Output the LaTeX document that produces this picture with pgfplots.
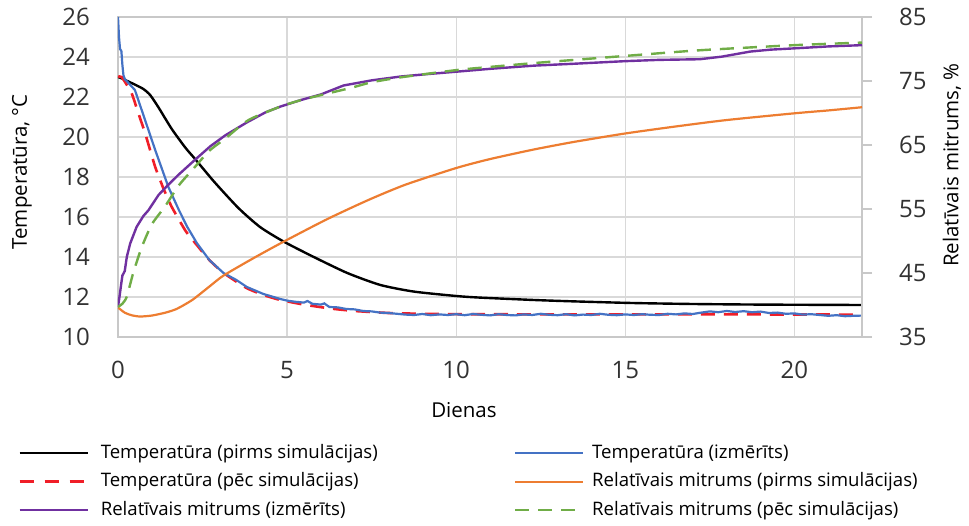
\documentclass[border=0pt]{standalone}
\usepackage{pgfplots}
\usepackage{pgfplotstable}
\pgfplotsset{compat=1.18}
\usepackage{fontspec}
\setmainfont{Open Sans}
\definecolor{gridc}{RGB}{217,217,217}
\definecolor{axc}{RGB}{200,200,200}
\definecolor{txt}{RGB}{50,50,50}
\definecolor{cblue}{RGB}{68,114,196}
\definecolor{cred}{RGB}{240,30,40}
\definecolor{corange}{RGB}{237,125,49}
\definecolor{cpurple}{RGB}{112,48,160}
\definecolor{cgreen}{RGB}{112,173,71}

\pgfplotstableread{
x y
0 23.0
0.11 22.93
0.5 22.62
0.75 22.4
0.95 22.1
1.19 21.5
1.59 20.4
2.0 19.45
2.28 18.9
2.85 17.75
3.56 16.45
4.2 15.5
4.9 14.77
5.79 14.0
6.78 13.2
7.76 12.6
8.75 12.27
10 12.05
10.7 11.97
12.3 11.85
13.5 11.78
15.2 11.7
17 11.65
19 11.62
22 11.6
}\tblack

\pgfplotstableread{
x y
0 23.0
0.11 23.0
0.4 22.2
0.6 21.2
0.8 20.2
1.1 18.5
1.35 17.4
1.59 16.5
2.0 15.3
2.33 14.6
2.7 13.85
3.12 13.2
3.8 12.45
4.3 12.1
4.8 11.85
5.5 11.62
6.3 11.42
7.0 11.3
8.0 11.2
9.0 11.16
10.0 11.14
14 11.13
18 11.13
22 11.12
}\tred

\pgfplotstableread{
x y
0 26.0
0.03 25.0
0.06 24.4
0.1 24.3
0.13 23.6
0.16 23.1
0.2 22.9
0.5 22.35
0.8 20.85
1.1 19.35
1.49 17.5
1.8 16.35
2.05 15.5
2.33 14.7
2.7 13.85
3.12 13.2
3.5 12.85
3.81 12.5
4.3 12.15
4.8 11.9
5.0 11.82
5.25 11.76
5.5 11.72
5.6 11.8
5.75 11.66
6.0 11.62
6.1 11.68
6.25 11.50
6.5 11.48
6.75 11.40
7.0 11.38
7.25 11.30
7.5 11.28
7.75 11.22
8.0 11.20
8.25 11.16
8.5 11.12
8.75 11.10
9.0 11.15
9.25 11.09
9.5 11.13
9.75 11.10
10.0 11.14
10.25 11.09
10.5 11.15
10.75 11.11
11.0 11.08
11.25 11.14
11.5 11.10
11.75 11.08
12.0 11.13
12.25 11.10
12.5 11.16
12.75 11.11
13.0 11.09
13.25 11.14
13.5 11.08
13.75 11.12
14.0 11.10
14.25 11.16
14.5 11.11
14.75 11.09
15.0 11.13
15.25 11.10
15.5 11.14
15.75 11.11
16.0 11.10
16.25 11.16
16.5 11.13
16.75 11.18
17.0 11.15
17.25 11.22
17.5 11.28
17.75 11.24
18.0 11.30
18.25 11.25
18.5 11.29
18.75 11.24
19.0 11.27
19.25 11.20
19.5 11.22
19.75 11.16
20.0 11.18
20.25 11.12
20.5 11.14
20.75 11.10
21.0 11.06
21.25 11.09
21.5 11.04
21.75 11.06
22.0 11.07
}\tblue

\pgfplotstableread{
x y
0 39.6
0.2 38.8
0.4 38.4
0.65 38.2
1.0 38.35
1.4 38.8
1.74 39.4
2.2 40.8
2.73 43.0
3.12 44.6
4.0 47.3
4.9 49.9
6.18 53.4
7.4 56.4
8.5 58.8
10 61.4
11 62.8
12.3 64.3
13.5 65.5
15 66.8
16.5 67.9
18 68.9
20 69.95
21 70.4
22 70.9
}\rorange

\pgfplotstableread{
x y
0 39.7
0.05 41.5
0.1 43.5
0.13 44.6
0.2 45.3
0.26 47.5
0.36 49.6
0.55 52.2
0.75 53.9
0.9 54.8
1.2 57.2
1.49 58.8
1.8 60.4
2.28 62.7
2.73 64.8
3.17 66.5
3.8 68.5
4.36 70.1
4.8 71.0
5.39 72.0
6.0 72.9
6.67 74.3
7.5 75.1
8.36 75.7
9.2 76.1
10 76.45
11 76.9
12.3 77.4
13.5 77.7
15.0 78.1
16.0 78.3
17.2 78.4
17.85 78.8
18.7 79.6
19.3 79.9
20 80.1
21 80.4
22 80.6
}\rpurple

\pgfplotstableread{
x y
0 39.7
0.13 40.2
0.26 41.3
0.45 45.0
0.7 49.0
1.0 52.6
1.39 55.4
1.8 58.7
2.28 61.6
2.7 64.1
3.17 66.0
3.86 68.9
4.8 71.0
5.4 72.0
6.0 72.8
6.87 73.9
7.5 74.8
8.4 75.6
10 76.7
11 77.2
12.3 77.8
13.5 78.3
15.2 79.0
17.2 79.8
20 80.6
22 81.0
}\rgreen

\pgfplotsset{
  legend image code/.code={\draw[#1] (0pt,0pt) -- (68pt,0pt);},
}

\begin{document}
\begin{tikzpicture}
\useasboundingbox (-118pt,-189pt) rectangle (851pt,337pt);
\begin{axis}[
  at={(0,0)}, anchor=south west,
  scale only axis, width=744pt, height=320pt,
  xmin=0, xmax=22, ymin=10, ymax=26,
  xtick={0,5,10,15,20}, ytick={10,12,...,26},
  grid=major, grid style={gridc, line width=1.2pt},
  axis line style={axc, line width=1.2pt},
  major tick length=0pt,
  /pgf/number format/assume math mode=true,
  tick label style={font=\fontsize{24}{28}\selectfont, text=txt},
  yticklabel style={anchor=east, inner sep=0pt, xshift=-28pt},
  xticklabel style={anchor=north, inner sep=0pt, yshift=-24pt},
  xlabel={Dienas}, ylabel={Temperatūra, °C},
  label style={font=\fontsize{20.5}{24}\selectfont, text=black},
  xlabel style={at={(axis description cs:0.465,-0.228)}, anchor=center},
  ylabel style={at={(axis description cs:-0.129,0.516)}, anchor=center},
]
\addplot[black, line width=2.4pt, smooth, tension=0.4] table[x=x,y=y] {\tblack};
\addplot[cred, line width=2.6pt, dash pattern=on 14pt off 9pt, smooth, tension=0.3] table[x=x,y=y] {\tred};
\addplot[cblue, line width=2.2pt] table[x=x,y=y] {\tblue};
\end{axis}
\begin{axis}[
  at={(0,0)}, anchor=south west,
  scale only axis, width=744pt, height=320pt,
  xmin=0, xmax=22, ymin=35, ymax=85,
  ytick={35,45,...,85},
  axis x line=none, axis y line*=right,
  axis line style={axc, line width=1.2pt},
  tick align=outside, major tick length=10pt,
  tick style={axc, line width=1.2pt},
  /pgf/number format/assume math mode=true,
  tick label style={font=\fontsize{24}{28}\selectfont, text=txt},
  yticklabel style={anchor=west, inner sep=0pt, xshift=27pt},
  ylabel={Relatīvais mitrums, \%},
  label style={font=\fontsize{20.5}{24}\selectfont, text=black},
  ylabel style={at={(axis description cs:1.121,0.5375)}, anchor=center, rotate=0},
  legend columns=2,
  legend style={draw=none, fill=none, inner sep=0pt,
    at={(axis description cs:-0.1344,-0.3344)}, anchor=north west,
    font=\fontsize{18.6}{22}\selectfont, text=black,
    nodes={inner sep=0pt, text height=14pt, text depth=4pt, anchor=west},
    row sep=10.5pt,
    /tikz/column 1/.style={column sep=12pt},
    /tikz/column 2/.style={column sep=0pt},
    /tikz/column 3/.style={column sep=8pt}},
]
\addlegendimage{black, line width=2.4pt}
\addlegendentry{\makebox[413pt][l]{Temperatūra (pirms simulācijas)}}
\addlegendimage{cblue, line width=2.4pt}
\addlegendentry{Temperatūra (izmērīts)}
\addlegendimage{cred, line width=2.6pt, dash pattern=on 14pt off 11pt}
\addlegendentry{\makebox[413pt][l]{Temperatūra (pēc simulācijas)}}
\addplot[corange, line width=2.2pt, smooth, tension=0.4] table[x=x,y=y] {\rorange};
\addlegendentry{Relatīvais mitrums (pirms simulācijas)}
\addplot[cpurple, line width=2.4pt] table[x=x,y=y] {\rpurple};
\addlegendentry{\makebox[413pt][l]{Relatīvais mitrums (izmērīts)}}
\addplot[cgreen, line width=2.4pt, dash pattern=on 14pt off 9pt, smooth, tension=0.4] table[x=x,y=y] {\rgreen};
\addlegendentry{Relatīvais mitrums (pēc simulācijas)}
\end{axis}
\end{tikzpicture}
\end{document}
